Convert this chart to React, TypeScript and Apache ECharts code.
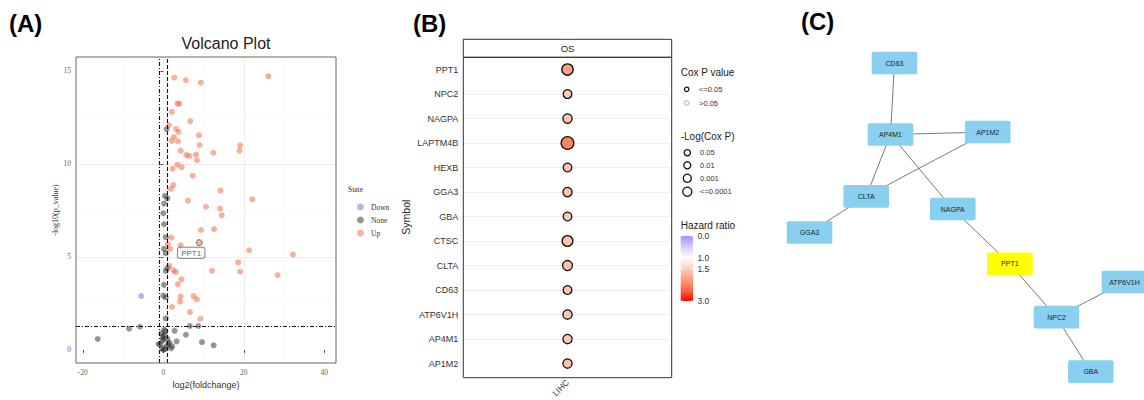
import React, { useEffect, useRef } from 'react';
import * as echarts from 'echarts';

// ---------- Panel A: volcano plot data ----------
const upPts: [number, number][] = [
  [2.7, 14.64], [5.6, 14.5], [9.3, 14.37], [26.1, 14.71], [3.5, 13.24], [4.0, 13.24], [2.1, 12.8],
  [6.7, 12.3], [1.4, 12.08], [3.15, 11.88], [3.8, 11.72], [8.86, 11.54], [2.65, 11.45], [2.08, 11.24],
  [3.65, 11.22], [9.0, 11.02], [19.1, 11.0], [18.95, 10.72], [4.3, 10.72], [5.7, 10.48], [6.45, 10.43],
  [8.1, 10.5], [8.36, 10.2], [12.4, 10.6], [3.5, 9.96], [2.3, 9.75], [4.55, 9.82], [7.3, 9.37],
  [2.5, 8.87], [1.9, 8.66], [14.2, 8.57], [22.1, 8.1], [6.1, 8.03], [10.6, 7.7], [14.1, 7.6],
  [14.5, 7.24], [9.35, 6.45], [12.6, 6.5], [2.0, 6.04], [4.3, 5.63], [1.1, 5.68], [1.66, 5.43],
  [21.3, 5.36], [32.2, 5.13], [18.6, 4.71], [19.1, 4.21], [12.1, 4.25], [28.4, 4.03], [1.5, 4.52],
  [2.5, 4.28], [3.1, 4.19], [4.5, 3.8], [3.6, 3.53], [4.3, 2.87], [4.15, 2.6], [7.5, 2.9], [8.3, 2.72],
  [2.16, 2.31], [6.6, 2.04], [9.2, 1.68],
];
const nonePts: [number, number][] = [
  [0.84, 11.88], [0.4, 8.28], [1.0, 8.15], [0.2, 7.87], [0.0, 7.35], [0.2, 6.76], [0.6, 6.06],
  [0.17, 5.43], [0.6, 5.2], [1.0, 4.4], [0.6, 4.25], [0.17, 3.5], [0.0, 2.92], [0.6, 2.82], [0.6, 1.7],
  [6.6, 1.29], [8.7, 1.29], [2.8, 1.03], [5.6, 0.82], [3.3, 0.46], [9.6, 0.42], [12.5, 0.25],
  [-16.3, 0.59], [-8.5, 1.14], [-5.8, 1.25],
  [-0.8, 0.3], [-0.2, 0.5], [0.3, 0.8], [0.5, 1.0], [-0.3, 0.1], [0.8, 0.2], [1.5, 0.4], [0.0, 0.6],
  [-1.2, 0.32], [2.2, 0.2], [0.4, 0.05], [1.0, 0.6], [-0.5, 0.9], [0.2, 1.1], [0.0, 0.0], [1.9, 0.09],
  [-0.15, 0.72], [1.24, 0.32],
];
const downPts: [number, number][] = [[-5.5, 2.9]];
const labelledGene = { name: 'PPT1', value: [8.9, 5.77] as [number, number] };
const fcThresholds = [-1, 1];
const pThreshold = 1.301;
const xTicksA = [-20, 0, 20, 40];
const yTicksA = [0, 5, 10, 15];
const stateNames = ['Down', 'None', 'Up'];

// ---------- Panel B: Cox bubble data ----------
const symbols = ['PPT1', 'NPC2', 'NAGPA', 'LAPTM4B', 'HEXB', 'GGA3', 'GBA', 'CTSC', 'CLTA', 'CD63', 'ATP6V1H', 'AP4M1', 'AP1M2'];
const hazardRatio = [1.95, 1.55, 1.6, 2.25, 1.6, 1.65, 1.55, 1.65, 1.65, 1.6, 1.6, 1.6, 1.65];
const negLogCoxP = [4.8, 2.45, 3.0, 6.1, 2.45, 3.0, 2.45, 4.3, 3.6, 2.45, 3.0, 3.0, 3.0];
const cancerTypes = ['LIHC'];
const sizeLegendP = ['0.05', '0.01', '0.001', '<=0.0001'];
const sizeLegendVals = [1.301, 2, 3, 4];
const hrTicks = [0, 1, 1.5, 3];
const hrStops = [0, 0.5, 1, 1.5, 2, 2.5, 3];
const hrColors = ['#A98CFF', '#D8CCFF', '#FFFFFF', '#FFCFBF', '#FF9C7F', '#FF6846', '#FF0000'];

// ---------- Panel C: network data ----------
const nodeNames = ['CD63', 'AP4M1', 'AP1M2', 'CLTA', 'NAGPA', 'GGA3', 'PPT1', 'ATP6V1H', 'NPC2', 'GBA'];
const nodeX = [124.5, 120.5, 217.7, 96.2, 182.8, 39.5, 239.8, 354.5, 286.5, 320.8];
const nodeY = [63, 134.5, 132, 196.3, 209, 232.5, 263.8, 282, 317.2, 371.7];
const edges: [string, string][] = [
  ['CD63', 'AP4M1'], ['AP4M1', 'AP1M2'], ['AP4M1', 'CLTA'], ['AP4M1', 'NAGPA'], ['AP1M2', 'CLTA'],
  ['CLTA', 'GGA3'], ['NAGPA', 'PPT1'], ['PPT1', 'NPC2'], ['NPC2', 'ATP6V1H'], ['NPC2', 'GBA'],
];
const hubGene = 'PPT1';

const sizeOf = (v: number) => 6 + 1.1 * v;
const SANS = 'Liberation Sans, Arial, sans-serif';
const SERIF = 'Liberation Serif, Times New Roman, serif';

function buildOption() {
  const gA = { x: 76, y: 57, w: 260, h: 306 };
  const gB = { x: 463.3, y: 57.3, w: 208.4, h: 320.4 };
  const gC = { x: 770, y: 0, w: 374, h: 400 };
  const bar = { x: 680.7, y: 236, w: 12.3, h: 65 };

  const hrToY = (v: number) => bar.y + (v / 3) * bar.h;

  const dashDot = { type: [4, 2, 1, 2], color: '#111', width: 1.1 };
  const dashed = { type: [4, 2], color: '#111', width: 1.1 };

  const graphic: any[] = [
    { type: 'text', x: 9, y: 23, style: { text: '(A)', fontSize: 24, fontWeight: 'bold', fontFamily: SANS, fill: '#000', verticalAlign: 'middle' } },
    { type: 'text', x: 413, y: 23, style: { text: '(B)', fontSize: 24, fontWeight: 'bold', fontFamily: SANS, fill: '#000', verticalAlign: 'middle' } },
    { type: 'text', x: 801, y: 21, style: { text: '(C)', fontSize: 24, fontWeight: 'bold', fontFamily: SANS, fill: '#000', verticalAlign: 'middle' } },
    { type: 'text', x: 226, y: 43, style: { text: 'Volcano Plot', fontSize: 16, fontFamily: SANS, fill: '#222', align: 'center', verticalAlign: 'middle' } },
    { type: 'text', x: 348, y: 189, style: { text: 'State', fontSize: 7.5, fontFamily: SERIF, fill: '#333', verticalAlign: 'middle' } },
    { type: 'rect', z: 20, silent: true, shape: { x: gA.x, y: gA.y, width: gA.w, height: gA.h }, style: { fill: 'none', stroke: '#666', lineWidth: 1 } },
    // panel B strip + border
    { type: 'rect', z: 20, silent: true, shape: { x: gB.x, y: 39.3, width: gB.w, height: 18 }, style: { fill: '#fff', stroke: '#333', lineWidth: 1 } },
    { type: 'text', z: 21, x: gB.x + gB.w / 2, y: 48.5, style: { text: 'OS', fontSize: 9.5, fontFamily: SANS, fill: '#222', align: 'center', verticalAlign: 'middle' } },
    { type: 'rect', z: 20, silent: true, shape: { x: gB.x, y: gB.y, width: gB.w, height: gB.h }, style: { fill: 'none', stroke: '#333', lineWidth: 1 } },
    // legend B: Cox P value
    { type: 'text', x: 680.7, y: 72, style: { text: 'Cox P value', fontSize: 10, fontFamily: SANS, fill: '#222', verticalAlign: 'middle' } },
    { type: 'circle', shape: { cx: 686.7, cy: 89.3, r: 2.2 }, style: { fill: '#fff', stroke: '#111', lineWidth: 1.2 } },
    { type: 'text', x: 699, y: 89.3, style: { text: '<=0.05', fontSize: 7.5, fontFamily: SANS, fill: '#333', verticalAlign: 'middle' } },
    { type: 'circle', shape: { cx: 686.7, cy: 103, r: 2.2 }, style: { fill: '#fff', stroke: '#bbb', lineWidth: 1.2 } },
    { type: 'text', x: 699, y: 103, style: { text: '>0.05', fontSize: 7.5, fontFamily: SANS, fill: '#333', verticalAlign: 'middle' } },
    // legend B: -Log(Cox P)
    { type: 'text', x: 680.7, y: 136, style: { text: '-Log(Cox P)', fontSize: 10, fontFamily: SANS, fill: '#222', verticalAlign: 'middle' } },
    // legend B: Hazard ratio
    { type: 'text', x: 680.7, y: 225, style: { text: 'Hazard ratio', fontSize: 10, fontFamily: SANS, fill: '#222', verticalAlign: 'middle' } },
    {
      type: 'rect', shape: { x: bar.x, y: bar.y, width: bar.w, height: bar.h },
      style: {
        fill: {
          type: 'linear', x: 0, y: 0, x2: 0, y2: 1,
          colorStops: hrStops.map((s, i) => ({ offset: s / 3, color: hrColors[i] })),
        },
      },
    },
  ];
  const sizeY = [152.7, 165.3, 178.3, 191.7];
  sizeLegendVals.forEach((v, i) => {
    graphic.push({ type: 'circle', shape: { cx: 687.3, cy: sizeY[i], r: sizeOf(v) / 2 - 0.6 }, style: { fill: '#fff', stroke: '#111', lineWidth: 1.3 } });
    graphic.push({ type: 'text', x: 700, y: sizeY[i], style: { text: sizeLegendP[i], fontSize: 7.5, fontFamily: SANS, fill: '#333', verticalAlign: 'middle' } });
  });
  hrTicks.forEach((v) => {
    const y = hrToY(v);
    graphic.push({ type: 'line', shape: { x1: bar.x, y1: y, x2: bar.x + 2.5, y2: y }, style: { stroke: '#fff', lineWidth: 0.8 } });
    graphic.push({ type: 'line', shape: { x1: bar.x + bar.w - 2.5, y1: y, x2: bar.x + bar.w, y2: y }, style: { stroke: '#fff', lineWidth: 0.8 } });
    graphic.push({ type: 'text', x: 697.5, y, style: { text: v.toFixed(1), fontSize: 8.5, fontFamily: SANS, fill: '#333', verticalAlign: 'middle' } });
  });

  const nodeSymbol = 'path://M2,0 H44 Q46,0 46,2 V21 Q46,23 44,23 H2 Q0,23 0,21 V2 Q0,0 2,0 Z';

  return {
    animation: false,
    textStyle: { fontFamily: SANS },
    grid: [
      { left: gA.x, top: gA.y, width: gA.w, height: gA.h },
      { left: gB.x, top: gB.y, width: gB.w, height: gB.h },
      { left: gC.x, top: gC.y, width: gC.w, height: gC.h },
    ],
    xAxis: [
      {
        gridIndex: 0, type: 'value', min: -21.7, max: 42.9, splitNumber: 3, minInterval: 20, maxInterval: 20,
        axisLine: { show: false },
        axisTick: { show: true, length: 3, customValues: xTicksA, lineStyle: { color: '#555' } },
        axisLabel: {
          customValues: xTicksA, fontSize: 7.5, color: '#666', fontFamily: SERIF, margin: 5,
          formatter: (v: number) => (xTicksA.includes(v) ? String(v) : ''),
        },
        splitLine: { show: true, showMinLine: false, showMaxLine: false, lineStyle: { color: '#e8e8e8', width: 0.8 } },
        minorTick: { show: false, splitNumber: 2 },
        minorSplitLine: { show: true, lineStyle: { color: '#f3f3f3', width: 0.5 } },
        name: 'log2(foldchange)', nameLocation: 'middle', nameGap: 15,
        nameTextStyle: { fontSize: 9, color: '#333', fontFamily: SANS },
      },
      {
        gridIndex: 1, type: 'value', min: -1, max: 1, splitNumber: 2, minInterval: 1, maxInterval: 1,
        axisLine: { show: false },
        axisTick: { show: true, length: 3, customValues: [0], lineStyle: { color: '#333' } },
        axisLabel: {
          customValues: [0], rotate: 45, fontSize: 8.5, color: '#333', margin: 4,
          formatter: (v: number) => (v === 0 ? cancerTypes[0] : ''),
        },
        splitLine: { show: true, showMinLine: false, showMaxLine: false, lineStyle: { color: '#d4d4d4', type: [2, 2], width: 0.7 } },
      },
      { gridIndex: 2, type: 'value', min: 0, max: 374, show: false },
    ],
    yAxis: [
      {
        gridIndex: 0, type: 'value', min: -0.7, max: 15.75, splitNumber: 3, minInterval: 5, maxInterval: 5,
        axisLine: { show: false },
        axisTick: { show: true, length: 3, customValues: yTicksA, lineStyle: { color: '#555' } },
        axisLabel: {
          customValues: yTicksA, fontSize: 7.5, color: '#666', fontFamily: SERIF, margin: 5,
          formatter: (v: number) => (yTicksA.includes(v) ? String(v) : ''),
        },
        splitLine: { show: true, showMinLine: false, showMaxLine: false, lineStyle: { color: '#e8e8e8', width: 0.8 } },
        minorTick: { show: false, splitNumber: 2 },
        minorSplitLine: { show: true, lineStyle: { color: '#f3f3f3', width: 0.5 } },
        name: '-log10(p_value)', nameLocation: 'middle', nameGap: 16,
        nameTextStyle: { fontSize: 8, color: '#333', fontFamily: SERIF },
      },
      {
        gridIndex: 1, type: 'value', inverse: true, min: -0.5, max: 12.55, splitNumber: 12, minInterval: 1, maxInterval: 1,
        axisLine: { show: false },
        axisTick: { show: true, length: 3, customValues: symbols.map((_, i) => i), lineStyle: { color: '#333' } },
        axisLabel: {
          customValues: symbols.map((_, i) => i), fontSize: 9, color: '#333', margin: 5,
          formatter: (v: number) => (Number.isInteger(v) && symbols[v] ? symbols[v] : ''),
        },
        splitLine: { show: true, showMinLine: false, showMaxLine: false, lineStyle: { color: '#d4d4d4', type: [2, 2], width: 0.7 } },
        name: 'Symbol', nameLocation: 'middle', nameGap: 52,
        nameTextStyle: { fontSize: 10.5, color: '#222' },
      },
      { gridIndex: 2, type: 'value', min: 0, max: 400, inverse: true, show: false },
    ],
    legend: {
      data: stateNames, orient: 'vertical', left: 352, top: 198, itemWidth: 7, itemHeight: 7, itemGap: 5,
      icon: 'circle', selectedMode: false,
      textStyle: { fontFamily: SERIF, fontSize: 7.5, color: '#333', padding: [0, 0, 0, 2] },
    },
    visualMap: {
      type: 'continuous', show: false, seriesIndex: 3, dimension: 2, min: 0, max: 3,
      inRange: { color: hrColors },
    },
    graphic: { elements: graphic },
    series: [
      {
        type: 'scatter', name: 'Down', xAxisIndex: 0, yAxisIndex: 0, data: downPts, symbolSize: 6,
        itemStyle: { color: 'rgba(90,90,195,0.55)' }, silent: true,
      },
      {
        type: 'scatter', name: 'None', xAxisIndex: 0, yAxisIndex: 0, data: nonePts, symbolSize: 6,
        itemStyle: { color: 'rgba(35,35,35,0.6)' }, silent: true,
        markLine: {
          silent: true, symbol: 'none', label: { show: false }, z: 4,
          data: [
            { xAxis: fcThresholds[0], lineStyle: dashDot },
            { xAxis: fcThresholds[1], lineStyle: dashed },
            { yAxis: pThreshold, lineStyle: dashDot },
          ],
        },
      },
      {
        type: 'scatter', name: 'Up', xAxisIndex: 0, yAxisIndex: 0, symbolSize: 6, z: 3,
        itemStyle: { color: 'rgba(240,90,50,0.6)' }, silent: true,
        data: [
          ...upPts,
          {
            name: labelledGene.name, value: labelledGene.value,
            itemStyle: { borderColor: '#333', borderWidth: 0.8 },
            label: {
              show: true, formatter: '{b}', position: 'bottom', distance: 1.5, offset: [-8, 0],
              fontSize: 8, color: '#333', backgroundColor: '#fff', borderColor: '#444', borderWidth: 0.7,
              borderRadius: 2, padding: [1.5, 3.5, 1, 3.5],
            },
          },
        ],
      },
      {
        type: 'scatter', name: 'Cox', xAxisIndex: 1, yAxisIndex: 1, z: 5, silent: true,
        data: symbols.map((s, i) => [0, i, hazardRatio[i], negLogCoxP[i]]),
        symbolSize: (v: number[]) => sizeOf(v[3]),
        itemStyle: { borderColor: '#111', borderWidth: 1.3, opacity: 1 },
      },
      {
        type: 'graph', layout: 'none', coordinateSystem: 'cartesian2d', xAxisIndex: 2, yAxisIndex: 2,
        silent: true, symbol: nodeSymbol, symbolSize: [45.6, 22.7],
        data: nodeNames.map((n, i) => ({
          name: n, value: [nodeX[i], nodeY[i]],
          itemStyle: { color: n === hubGene ? '#FFFF00' : '#89CFF0' },
        })),
        links: edges.map(([s, t]) => ({ source: s, target: t })),
        lineStyle: { color: '#7a7a7a', width: 1, opacity: 1, curveness: 0 },
        label: { show: true, position: 'inside', fontSize: 7, color: '#222' },
        emphasis: { disabled: true },
      },
    ],
  };
}

export default function App() {
  const ref = useRef<HTMLDivElement>(null);
  useEffect(() => {
    document.body.style.margin = '0';
    const chart = echarts.init(ref.current!, null, { renderer: 'svg' });
    chart.setOption(buildOption() as any);
    return () => chart.dispose();
  }, []);
  return <div ref={ref} style={{ width: 1144, height: 400, background: '#fff' }} />;
}
